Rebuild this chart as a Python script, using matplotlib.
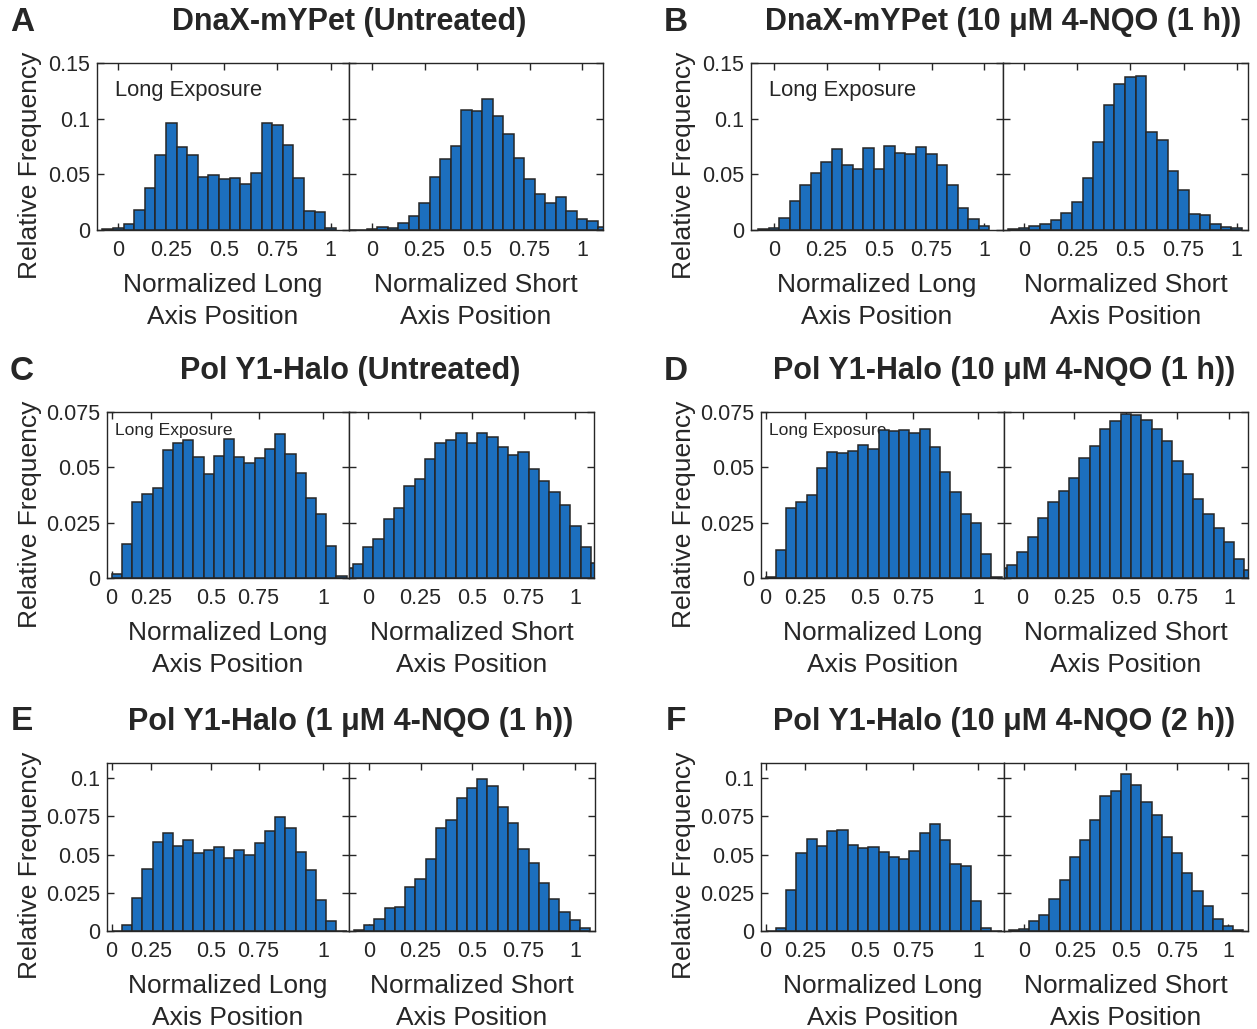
import numpy as np
import matplotlib
matplotlib.use("Agg")
import matplotlib.pyplot as plt

plt.rcParams['font.family'] = ['Liberation Sans', 'DejaVu Sans']

W, H = 1257, 1029
BAR = '#1c6fbe'
INK = '#262626'

# ---- relative frequency per bin ----
# rows A/B and all short-axis panels: bins of 0.05, first centre given
dnax_untr_long_c0 = -0.05
dnax_untr_long = [0.0006, 0.0015, 0.0054, 0.018, 0.038, 0.067, 0.096, 0.075, 0.067, 0.048, 0.0495,
                  0.046, 0.047, 0.041, 0.051, 0.096, 0.094, 0.076, 0.0465, 0.0174, 0.016, 0.0015]
dnax_untr_short_c0 = -0.1
dnax_untr_short = [0.0002, 0.0003, 0.0005, 0.0024, 0.0018, 0.006, 0.0126, 0.024, 0.048, 0.0636,
                   0.0756, 0.1074, 0.1065, 0.1176, 0.102, 0.086, 0.065, 0.0456, 0.032, 0.0246,
                   0.0294, 0.0171, 0.0099, 0.0081, 0.003]
dnax_nqo_long_c0 = -0.05
dnax_nqo_long = [0.001, 0.002, 0.0105, 0.026, 0.040, 0.0516, 0.0615, 0.0726, 0.058, 0.0546, 0.074,
                 0.055, 0.0753, 0.0696, 0.068, 0.0744, 0.068, 0.0585, 0.040, 0.020, 0.0099, 0.0039]
dnax_nqo_short_c0 = -0.05
dnax_nqo_short = [0.001, 0.0015, 0.0036, 0.0054, 0.009, 0.0156, 0.0255, 0.0465, 0.079, 0.112, 0.131,
                  0.137, 0.1386, 0.0876, 0.081, 0.053, 0.036, 0.0141, 0.0135, 0.0054, 0.0024, 0.002]

# Pol Y1 long-axis panels: 23 bins between these edges
poly_long_span = (0.0, 1.11)
poly_untr_long = [0.002, 0.0155, 0.0345, 0.0378, 0.0408, 0.0578, 0.061, 0.0622, 0.0545, 0.047, 0.0552,
                  0.0627, 0.0548, 0.0518, 0.054, 0.0585, 0.0652, 0.0562, 0.0473, 0.036, 0.029, 0.0143, 0.0008]
poly_untr_short_c0 = -0.1
poly_untr_short = [0.0045, 0.0065, 0.0138, 0.0176, 0.0266, 0.0318, 0.0416, 0.0446, 0.0536, 0.0608,
                   0.0623, 0.0656, 0.0608, 0.0653, 0.0638, 0.059, 0.0555, 0.057, 0.0494, 0.044,
                   0.0387, 0.033, 0.0236, 0.014, 0.0068]
poly_10_1h_long = [0.0003, 0.0128, 0.0315, 0.0342, 0.0374, 0.0498, 0.057, 0.0566, 0.0575, 0.0603, 0.0585,
                   0.0668, 0.0663, 0.0668, 0.0653, 0.0672, 0.0593, 0.0477, 0.0387, 0.029, 0.0248, 0.011, 0.0003]
poly_10_1h_short_c0 = -0.1
poly_10_1h_short = [0.0045, 0.0057, 0.0116, 0.0185, 0.0273, 0.0345, 0.0395, 0.045, 0.0543, 0.0596,
                    0.0672, 0.0708, 0.074, 0.0735, 0.0713, 0.0675, 0.0618, 0.053, 0.0468, 0.0356,
                    0.0288, 0.0228, 0.0162, 0.0086, 0.0035]
poly_1_1h_long = [0.0, 0.0037, 0.0214, 0.0405, 0.0581, 0.0643, 0.0555, 0.0595, 0.0511, 0.0533, 0.0551,
                  0.0478, 0.0533, 0.0496, 0.0573, 0.0654, 0.0749, 0.0676, 0.0515, 0.0401, 0.0203, 0.0064, 0.0]
poly_1_1h_short_c0 = -0.05
poly_1_1h_short = [0.0004, 0.0042, 0.0077, 0.0152, 0.0159, 0.0286, 0.0341, 0.0471, 0.0672, 0.0727,
                   0.087, 0.0934, 0.0996, 0.0952, 0.0815, 0.0705, 0.054, 0.0445, 0.0317, 0.0207,
                   0.0126, 0.0075, 0.002]
poly_10_2h_long = [0.0, 0.002, 0.0269, 0.0511, 0.0604, 0.0555, 0.0654, 0.0659, 0.0566, 0.0544, 0.0551,
                   0.0515, 0.0482, 0.0474, 0.0522, 0.0643, 0.0698, 0.0599, 0.0438, 0.0427, 0.0198, 0.002, 0.0]
poly_10_2h_short_c0 = -0.05
poly_10_2h_short = [0.0004, 0.0015, 0.0066, 0.0104, 0.0209, 0.0335, 0.0485, 0.0593, 0.0725, 0.0885,
                    0.0914, 0.1029, 0.0958, 0.0846, 0.0758, 0.0615, 0.0511, 0.0383, 0.0262, 0.0163,
                    0.0081, 0.0031, 0.0004]

tick_text = ['0', '0.25', '0.5', '0.75', '1']
uniform_ticks = [0, 0.25, 0.5, 0.75, 1]
poly_long_ticks = [0, 0.187, 0.47, 0.694, 1]


def px_axes(fig, x0, x1, y0, y1):
    return fig.add_axes([x0 / W, 1 - y1 / H, (x1 - x0) / W, (y1 - y0) / H])


def step_bins(c0, vals, width=0.05):
    centers = c0 + width * np.arange(len(vals))
    return centers, width


def span_bins(span, vals):
    w = (span[1] - span[0]) / len(vals)
    return span[0] + w * (np.arange(len(vals)) + 0.5), w


def draw(ax, centers, w, vals, xlim, xticks, ylim, yticks, ylabels, xlabel):
    ax.bar(centers, vals, width=w, color=BAR, edgecolor=INK, linewidth=1.1, zorder=2)
    ax.set_xlim(xlim)
    ax.set_ylim(ylim)
    ax.set_xticks(xticks)
    ax.set_xticklabels(tick_text)
    ax.set_yticks(yticks)
    ax.set_yticklabels(ylabels if ylabels else [])
    ax.tick_params(direction='in', top=True, right=True, length=5, width=1,
                   labelsize=15.5, colors=INK)
    ax.tick_params(axis='x', pad=7)
    ax.tick_params(axis='y', pad=5)
    for s in ax.spines.values():
        s.set_color(INK)
        s.set_linewidth(1)
    ax.set_xlabel(xlabel, fontsize=19, color=INK, labelpad=9, linespacing=1.4)


fig = plt.figure(figsize=(W / 100, H / 100), dpi=100)

long_lab = 'Normalized Long\nAxis Position'
short_lab = 'Normalized Short\nAxis Position'

# row settings
row1 = dict(y=(63, 230), ylim=(0, 0.15), yt=[0, 0.05, 0.1, 0.15], yl=['0', '0.05', '0.1', '0.15'])
row2 = dict(y=(412, 578), ylim=(0, 0.075), yt=[0, 0.025, 0.05, 0.075], yl=['0', '0.025', '0.05', '0.075'])
row3 = dict(y=(763, 931), ylim=(0, 0.11), yt=[0, 0.025, 0.05, 0.075, 0.1],
            yl=['0', '0.025', '0.05', '0.075', '0.1'])

panels = [
    # letter, title, row, long box, long bins, long vals, long xlim, long ticks,
    # short box, short bins, short vals, short xlim, label x, exposure text size, its position
    ('A', 'DnaX-mYPet (Untreated)', row1, (97, 349), step_bins(dnax_untr_long_c0, dnax_untr_long),
     dnax_untr_long, (-0.1, 1.087), uniform_ticks,
     (349, 603), step_bins(dnax_untr_short_c0, dnax_untr_short), dnax_untr_short, (-0.11, 1.1),
     24, 15.8, (0.071, 0.838)),
    ('B', 'DnaX-mYPet (10 μM 4-NQO (1 h))', row1, (751, 1003), step_bins(dnax_nqo_long_c0, dnax_nqo_long),
     dnax_nqo_long, (-0.11, 1.09), uniform_ticks,
     (1003, 1248), step_bins(dnax_nqo_short_c0, dnax_nqo_short), dnax_nqo_short, (-0.099, 1.053),
     678, 15.8, (0.071, 0.838)),
    ('C', 'Pol Y1-Halo (Untreated)', row2, (107, 349), span_bins(poly_long_span, poly_untr_long),
     poly_untr_long, (-0.022, 1.121), poly_long_ticks,
     (349, 594), step_bins(poly_untr_short_c0, poly_untr_short), poly_untr_short, (-0.092, 1.09),
     24, 12.6, (0.033, 0.89)),
    ('D', 'Pol Y1-Halo (10 μM 4-NQO (1 h))', row2, (761, 1004), span_bins(poly_long_span, poly_10_1h_long),
     poly_10_1h_long, (-0.022, 1.121), poly_long_ticks,
     (1004, 1248), step_bins(poly_10_1h_short_c0, poly_10_1h_short), poly_10_1h_short, (-0.09, 1.092),
     678, 12.6, (0.033, 0.89)),
    ('E', 'Pol Y1-Halo (1 μM 4-NQO (1 h))', row3, (107, 349), span_bins(poly_long_span, poly_1_1h_long),
     poly_1_1h_long, (-0.022, 1.121), poly_long_ticks,
     (349, 595), step_bins(poly_1_1h_short_c0, poly_1_1h_short), poly_1_1h_short, (-0.098, 1.098),
     24, None, None),
    ('F', 'Pol Y1-Halo (10 μM 4-NQO (2 h))', row3, (761, 1004), span_bins(poly_long_span, poly_10_2h_long),
     poly_10_2h_long, (-0.022, 1.121), poly_long_ticks,
     (1004, 1248), step_bins(poly_10_2h_short_c0, poly_10_2h_short), poly_10_2h_short, (-0.098, 1.098),
     678, None, None),
]

for (letter, title, row, lbox, lbins, lvals, lxlim, lticks,
     sbox, sbins, svals, sxlim, ylab_x, exp_size, exp_pos) in panels:
    y0, y1 = row['y']
    axl = px_axes(fig, lbox[0], lbox[1], y0, y1)
    draw(axl, lbins[0], lbins[1], lvals, lxlim, lticks, row['ylim'], row['yt'], row['yl'], long_lab)
    axs = px_axes(fig, sbox[0], sbox[1], y0, y1)
    draw(axs, sbins[0], sbins[1], svals, sxlim, uniform_ticks, row['ylim'], row['yt'], None, short_lab)

    axl.set_ylabel('Relative Frequency', fontsize=19, color=INK)
    axl.yaxis.set_label_coords((ylab_x + 18 - lbox[0]) / (lbox[1] - lbox[0]), (y1 - (y0 + 102)) / (y1 - y0))

    if exp_size:
        axl.text(exp_pos[0], exp_pos[1], 'Long Exposure', transform=axl.transAxes,
                 fontsize=exp_size, color=INK, ha='left', va='center', zorder=1)

    cx = sbox[0] if letter in 'AB' else (lbox[0] + sbox[1]) / 2
    ty = y0 - 41
    fig.text(cx / W, 1 - ty / H, title, fontsize=22, fontweight='bold', color=INK,
             ha='center', va='center')
    fig.text((ylab_x - 2) / W, 1 - ty / H, letter, fontsize=24, fontweight='bold', color=INK,
             ha='center', va='center')

fig.savefig('out.png', dpi=100)
